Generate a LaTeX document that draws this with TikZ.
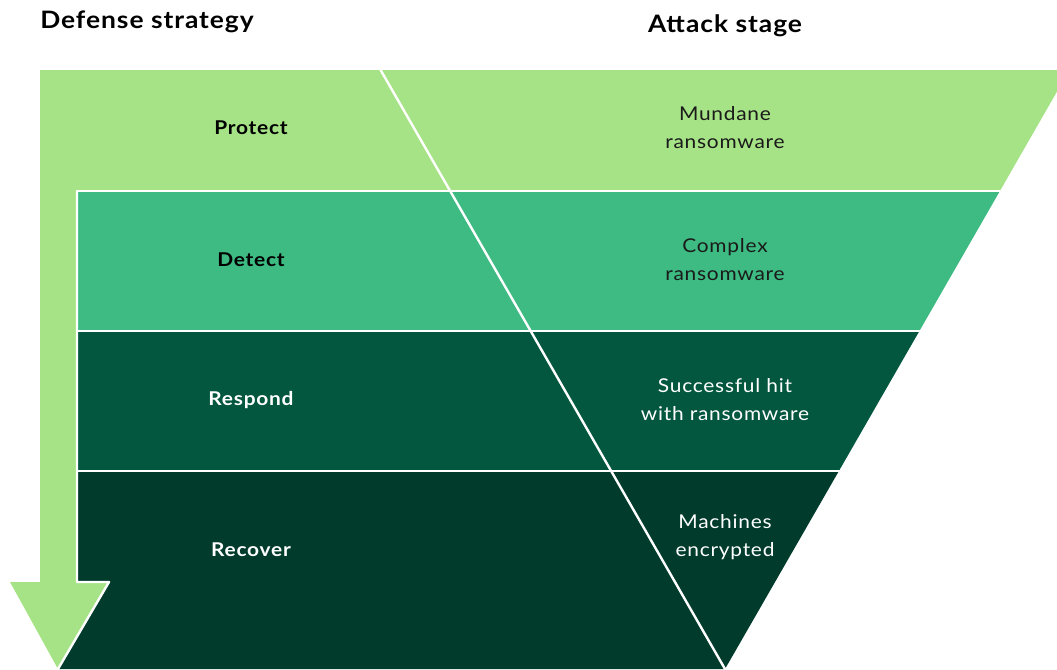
\documentclass[tikz,border=0pt]{standalone}
\usepackage{fontspec}
\setmainfont{Lato}[FakeStretch=1.1, LetterSpace=4]
\usepackage{tikz}
\definecolor{litegreen}{RGB}{166,227,134}
\definecolor{midgreen}{RGB}{61,187,130}
\definecolor{darkgreen}{RGB}{4,87,63}
\definecolor{deepgreen}{RGB}{0,59,44}
\definecolor{inkgray}{RGB}{26,26,26}

\begin{document}
\begin{tikzpicture}[line cap=round,line join=round,x=0.75pt,y=-0.75pt,
    title/.style={font=\fontsize{18}{21}\selectfont\bfseries, text=black, inner sep=0pt},
    defense/.style={font=\fontsize{14.25}{21}\selectfont\bfseries},
    stage/.style={font=\fontsize{14.25}{21}\selectfont, align=center}]

    \useasboundingbox (0,0) rectangle (1057,669);
    \clip (0,0) rectangle (1057,669);

    % bands of the funnel (right edge x = 725 + 0.575*(669-y))
    \fill[midgreen] (77,191) -- (999.9,191) -- (919.4,331) -- (77,331) -- cycle;
    \fill[darkgreen] (77,331) -- (919.4,331) -- (838.9,471) -- (77,471) -- cycle;
    \fill[deepgreen] (77,471) -- (838.9,471) -- (725,669) -- (58,669) -- (77,582) -- cycle;

    % top band and arrow in one piece
    \fill[litegreen] (40,70) -- (1069.4,70) -- (999.9,191) -- (77,191) -- (77,582)
        -- (109,582) -- (58,669) -- (10,582) -- (40,582) -- cycle;

    % white separators
    \draw[white, line width=1.8pt] (77,191) -- (999.9,191);
    \draw[white, line width=1.8pt] (77,331) -- (919.4,331);
    \draw[white, line width=1.8pt] (77,471) -- (838.9,471);
    \draw[white, line width=1.8pt] (77,191) -- (77,582) -- (109,582) -- (58,669);
    \draw[white, line width=1.8pt] (380.6,70) -- (725,669);

    % headings
    \node[title, anchor=base west] (defhead) at (40,28) {Defense strategy};
    \node[title, anchor=base] (atkhead) at (725,32) {Attack stage};

    % defense strategy
    \node[defense, text=black] (protect) at (251,128) {Protect};
    \node[defense, text=black] (detect) at (251,260) {Detect};
    \node[defense, text=white] (respond) at (251,400) {Respond};
    \node[defense, text=white] (recover) at (251,550) {Recover};

    % attack stage
    \node[stage, text=inkgray] (mundane) at (725,128) {Mundane\\ransomware};
    \node[stage, text=inkgray] (complex) at (725,260) {Complex\\ransomware};
    \node[stage, text=white] (hit) at (725,400) {Successful hit\\with ransomware};
    \node[stage, text=white] (encrypted) at (725,537) {Machines\\encrypted};
\end{tikzpicture}
\end{document}
